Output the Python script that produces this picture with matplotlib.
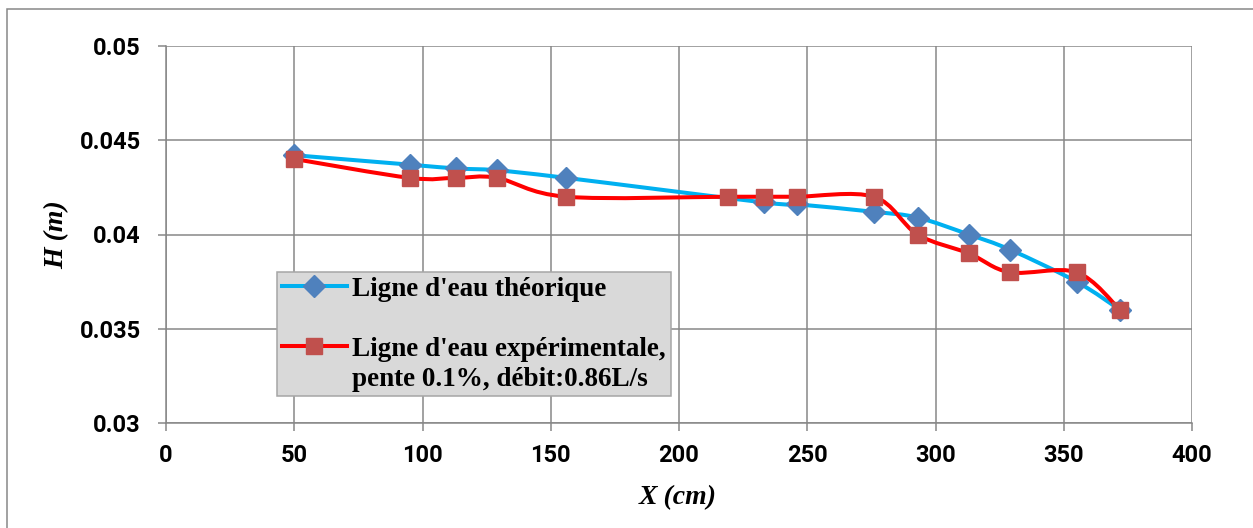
import matplotlib
matplotlib.use("Agg")
import matplotlib.pyplot as plt
from matplotlib.path import Path
from matplotlib.patches import PathPatch, Rectangle
from matplotlib.lines import Line2D
from matplotlib.font_manager import FontProperties
import numpy as np

# ---- data ----
x_theo = [50, 95, 113, 129, 156, 233, 246, 276, 293, 313, 329, 355, 372]
h_theo = [0.0442, 0.0437, 0.0435, 0.0434, 0.0430, 0.0417, 0.0416, 0.0412, 0.0409, 0.0400, 0.0392, 0.0375, 0.0360]
x_exp = [50, 95, 113, 129, 156, 219, 233, 246, 276, 293, 313, 329, 355, 372]
h_exp = [0.0440, 0.0430, 0.0430, 0.0430, 0.0420, 0.0420, 0.0420, 0.0420, 0.0420, 0.0400, 0.0390, 0.0380, 0.0380, 0.0360]
x_ticks = [0, 50, 100, 150, 200, 250, 300, 350, 400]
x_tick_labels = ["0", "50", "100", "150", "200", "250", "300", "350", "400"]
y_ticks = [0.03, 0.035, 0.04, 0.045, 0.05]
y_tick_labels = ["0.03", "0.035", "0.04", "0.045", "0.05"]
label_theo = "Ligne d'eau théorique"
label_exp_1 = "Ligne d'eau expérimentale,"
label_exp_2 = "pente 0.1%, débit:0.86L/s"
x_title = "X (cm)"
y_title = "H (m)"

W, H = 1253, 528
DPI = 100
fig = plt.figure(figsize=(W / DPI, H / DPI), dpi=DPI)
L, R, T, B = 166, 1192, 45.7, 423.3
ax = fig.add_axes([L / W, 1 - B / H, (R - L) / W, (B - T) / H])

grid_c = "#878787"


def smooth_path(xs, ys):
    """Excel-like smoothed line (Catmull-Rom Bezier)."""
    pts = np.column_stack([xs, ys]).astype(float)
    n = len(pts)
    verts = [pts[0]]
    codes = [Path.MOVETO]
    for i in range(n - 1):
        p0 = pts[i - 1] if i > 0 else pts[i]
        p1 = pts[i]
        p2 = pts[i + 1]
        p3 = pts[i + 2] if i + 2 < n else pts[i + 1]
        c1 = p1 + (p2 - p0) / 6.0
        c2 = p2 - (p3 - p1) / 6.0
        verts += [c1, c2, p2]
        codes += [Path.CURVE4] * 3
    return Path(verts, codes)


blue_line = "#00B0F0"
blue_mk = "#4F81BD"
red_line = "#FF0000"
red_mk = "#C0504D"
lw = 2.9

ax.add_patch(PathPatch(smooth_path(x_theo, h_theo), fill=False, edgecolor=blue_line, lw=lw, zorder=3,
                       capstyle="round", joinstyle="round"))
ax.plot(x_theo, h_theo, linestyle="none", marker="D", markersize=11, color=blue_mk, zorder=4)
ax.add_patch(PathPatch(smooth_path(x_exp, h_exp), fill=False, edgecolor=red_line, lw=lw, zorder=5,
                       capstyle="round", joinstyle="round"))
ax.plot(x_exp, h_exp, linestyle="none", marker="s", markersize=12, color=red_mk, zorder=6)

tick_fp = FontProperties(family="Roboto", weight="bold", size=17)

ax.set_xlim(0, 400)
ax.set_ylim(0.03, 0.05)
ax.set_xticks(x_ticks)
ax.set_xticklabels(x_tick_labels, fontproperties=tick_fp)
ax.set_yticks(y_ticks)
ax.set_yticklabels(y_tick_labels, fontproperties=tick_fp)
ax.grid(True, color=grid_c, linewidth=1.1, zorder=0)
ax.set_axisbelow(True)
for s in ["left", "bottom"]:
    ax.spines[s].set_color(grid_c)
    ax.spines[s].set_linewidth(1.1)
for s in ["top", "right"]:
    ax.spines[s].set_visible(False)
ax.tick_params(axis="both", direction="out", length=6, width=1.1, color=grid_c)
ax.tick_params(axis="y", pad=12)
ax.tick_params(axis="x", pad=9)

ax.set_xlabel(x_title, family="Liberation Serif", fontweight="bold", style="italic", fontsize=20)
ax.set_ylabel(y_title, family="Liberation Serif", fontweight="bold", style="italic", fontsize=20)
ax.xaxis.set_label_coords((678 - L) / (R - L), (B - 498) / (B - T))
ax.xaxis.label.set_va("center")
ax.yaxis.set_label_coords((57 - L) / (R - L), (B - 235) / (B - T))
ax.yaxis.label.set_va("center")

# legend
h1 = Line2D([], [], color=blue_line, lw=lw, marker="D", markersize=11, markerfacecolor=blue_mk,
            markeredgecolor=blue_mk)
h2 = Line2D([], [], color=red_line, lw=lw, marker="s", markersize=12, markerfacecolor=red_mk,
            markeredgecolor=red_mk)
blank = Line2D([], [], linestyle="none", marker=None)
leg = ax.legend([h1, blank, h2, blank], [label_theo, "Lg", label_exp_1, label_exp_2],
                loc="upper left",
                bbox_to_anchor=((277 - L) / (R - L), (B - 272) / (B - T)),
                prop={"family": "Liberation Serif", "weight": "bold", "size": 19.5},
                frameon=True, fancybox=False, framealpha=1, facecolor="#D9D9D9",
                edgecolor="#A6A6A6", borderaxespad=0, borderpad=0.18, labelspacing=0.18,
                handlelength=2.4, handletextpad=0.2, numpoints=1)
leg.get_texts()[1].set_alpha(0)  # spacer row
leg.get_frame().set_linewidth(1.1)
leg.set_zorder(10)

# outer chart border
fig.patches.append(Rectangle((7 / W, -0.5), 2.0, 1 - 9 / H + 0.5, transform=fig.transFigure,
                             fill=False, edgecolor="#878787", linewidth=1.1))

fig.savefig("out.png", dpi=DPI)
